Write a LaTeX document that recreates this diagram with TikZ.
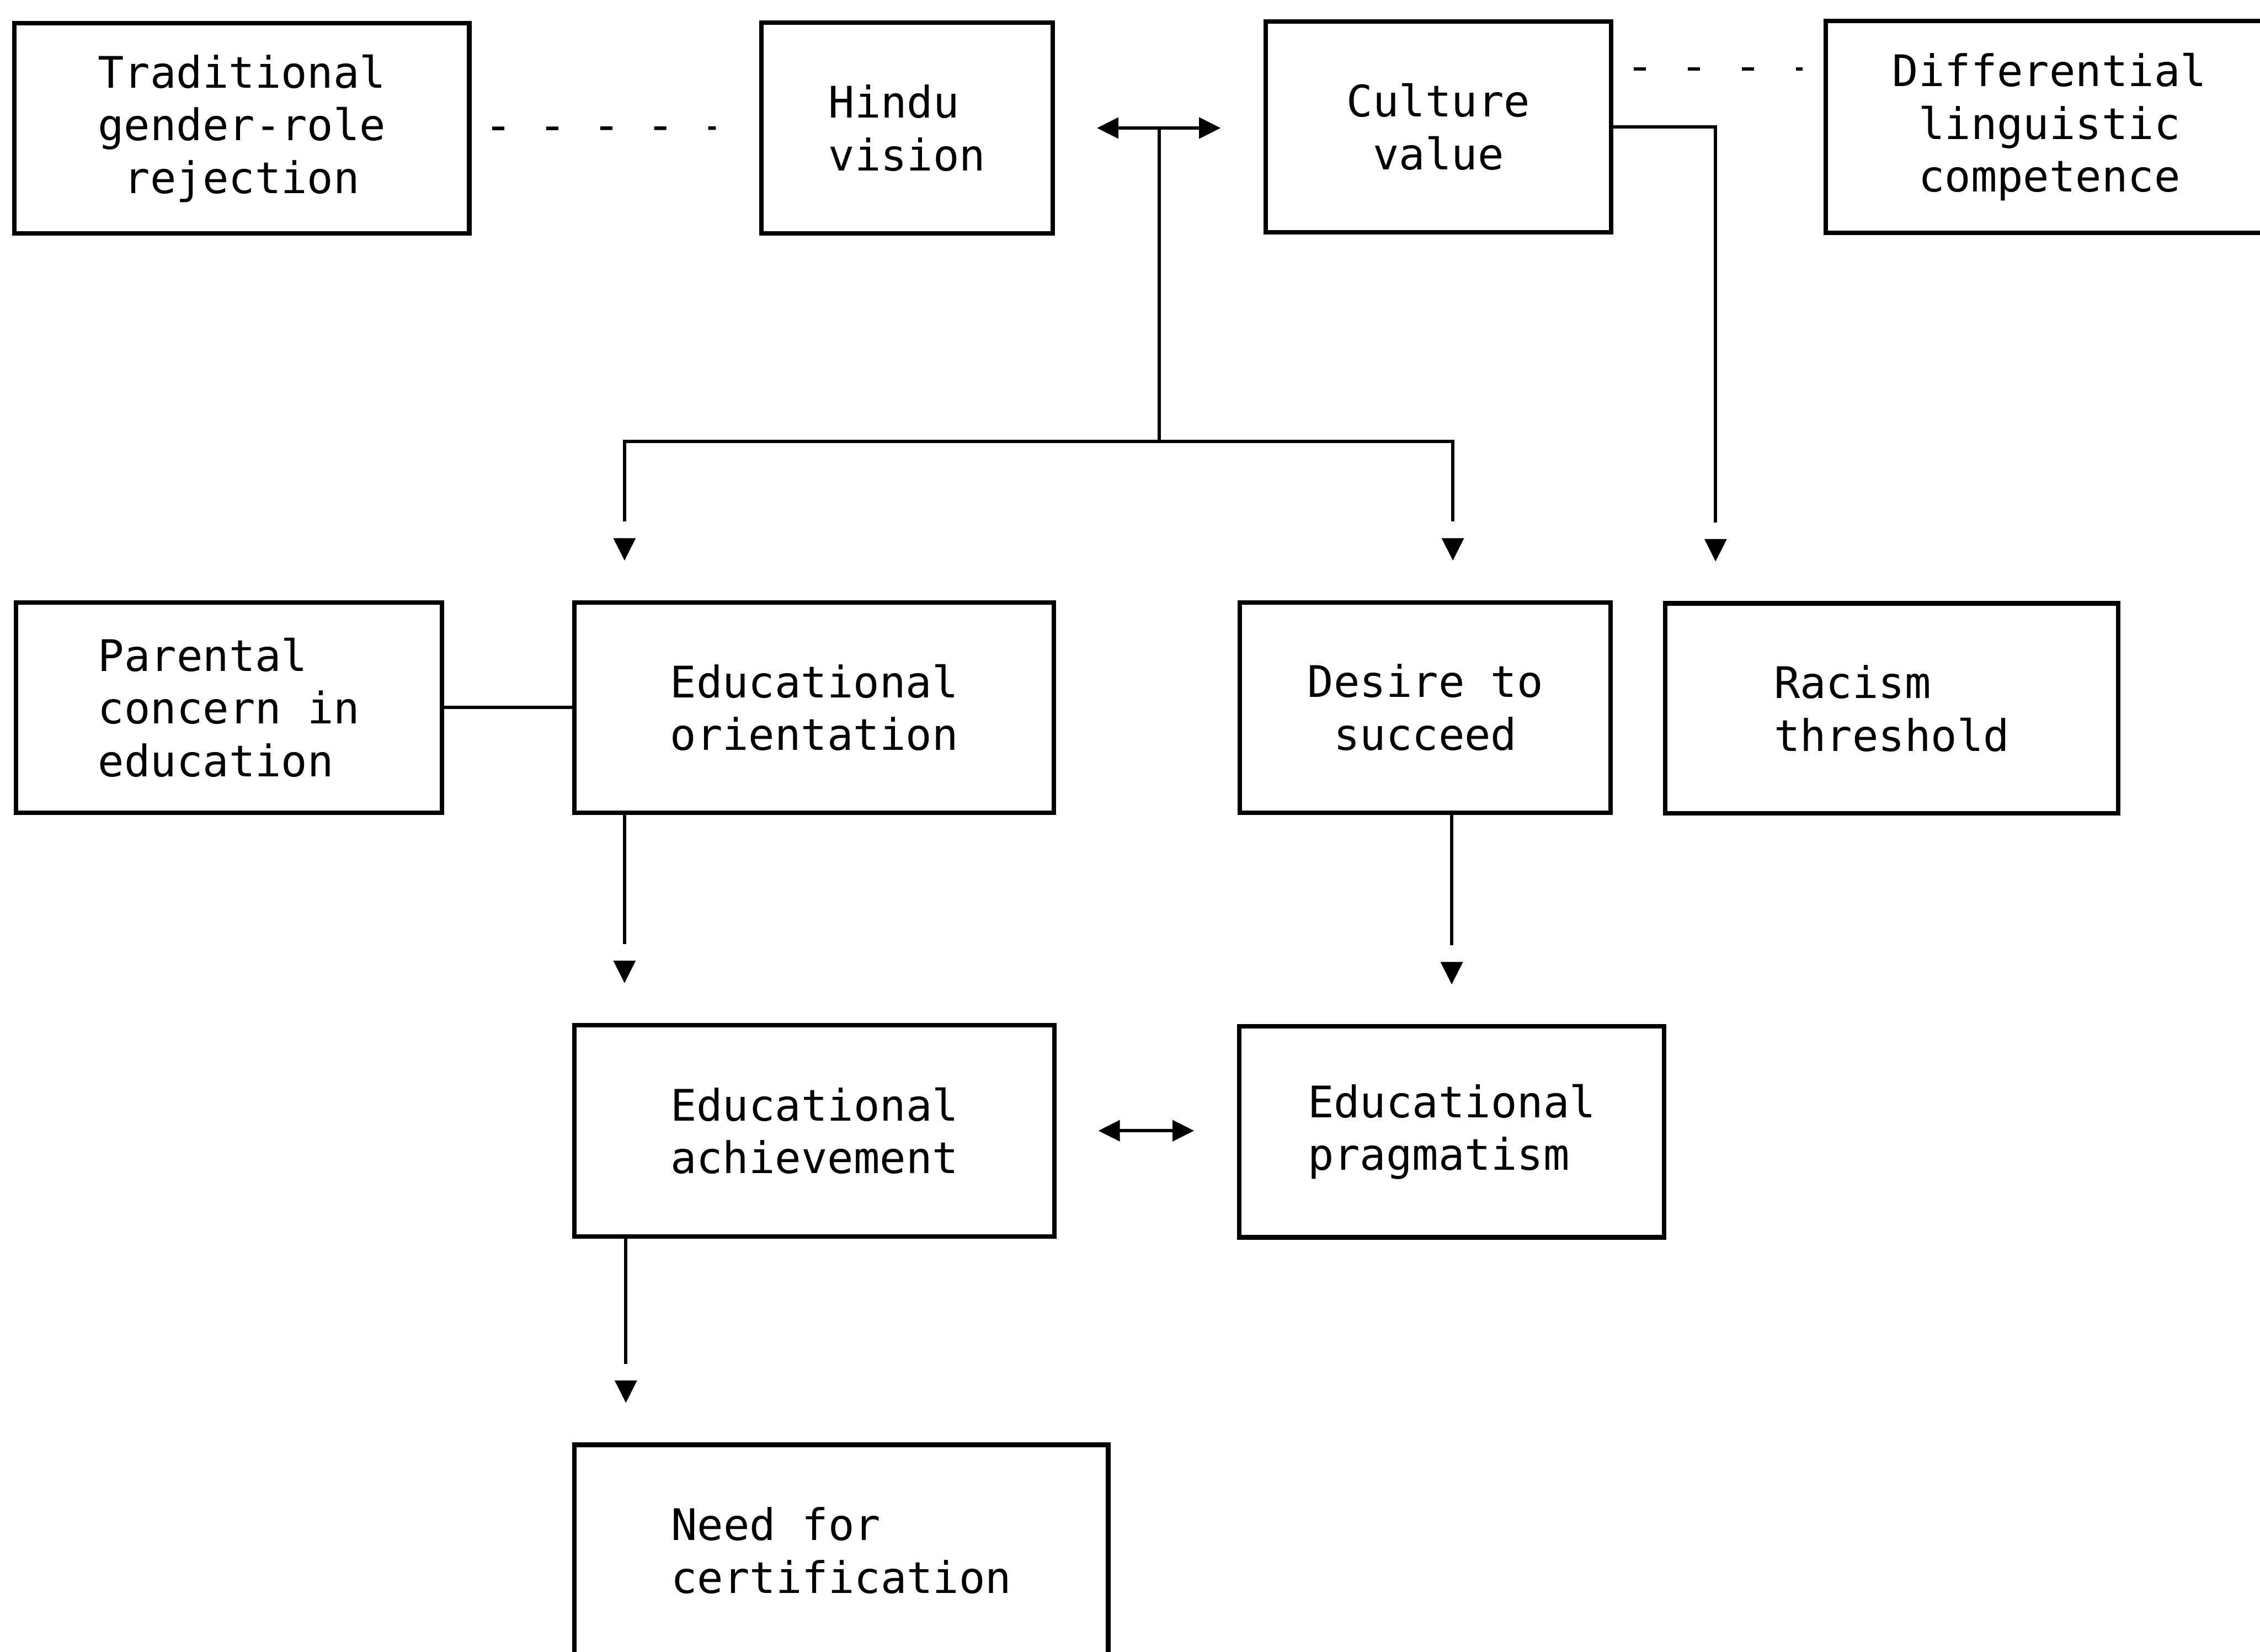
\documentclass[tikz,border=0pt]{standalone}
\usepackage{fontspec}
\setmonofont{DejaVu Sans Mono}
\usetikzlibrary{arrows.meta, calc, decorations.markings}

\tikzset{
  factor/.style={draw, line width=0.1cm, inner sep=0pt, align=left,
    font=\ttfamily\fontsize{27.5}{33.3}\selectfont},
  link/.style={line width=0.075cm},
  dashlink/.style={line width=0.08cm, dash pattern=on 0.27cm off 0.93cm},
  arr/.style={link, shorten >=1.75cm,
    postaction={decorate, decoration={markings,
      mark=at position -0.88cm with {\arrow{Triangle[length=0.5cm, width=0.48cm]}}}}},
  dblarr/.style={link, {Triangle[length=0.48cm, width=0.46cm]}-{Triangle[length=0.48cm, width=0.46cm]},
    shorten <=0.93cm, shorten >=0.95cm}
}

\begin{document}
\begin{tikzpicture}
\useasboundingbox (0,0) rectangle (50.23,-36.71);

\node[factor, align=center, minimum width=10.11cm, minimum height=4.67cm] (trad) at (5.375,-2.855) {Traditional\\gender-role\\rejection};
\node[factor, minimum width=6.48cm, minimum height=4.69cm] (hindu) at (20.16,-2.845) {Hindu\\vision};
\node[factor, align=center, minimum width=7.68cm, minimum height=4.68cm] (culture) at (31.97,-2.82) {Culture\\value};
\node[factor, align=center, minimum width=9.94cm, minimum height=4.71cm] (diff) at (45.55,-2.825) {Differential\\linguistic\\competence};

\node[factor, minimum width=9.46cm, minimum height=4.67cm] (parental) at (5.09,-15.725) {Parental\\concern in\\education};
\node[factor, minimum width=10.65cm, minimum height=4.67cm] (orient) at (18.095,-15.725) {Educational\\orientation};
\node[factor, align=center, minimum width=8.24cm, minimum height=4.67cm] (desire) at (31.68,-15.725) {Desire to\\succeed};
\node[factor, minimum width=10.07cm, minimum height=4.67cm] (racism) at (42.045,-15.745) {Racism\\threshold};

\node[factor, minimum width=10.66cm, minimum height=4.70cm] (achieve) at (18.10,-25.13) {Educational\\achievement};
\node[factor, minimum width=9.45cm, minimum height=4.69cm] (pragma) at (32.265,-25.155) {Educational\\pragmatism};

\node[factor, minimum width=11.86cm, minimum height=4.70cm] (certif) at (18.70,-34.46) {Need for\\certification};

% top row
\draw[dashlink, shorten <=0.46cm, shorten >=0.96cm] (trad.east) -- (hindu.west);
\draw[dashlink, shorten <=0.45cm, shorten >=0.47cm] ([yshift=1.29cm]culture.east) -- ([yshift=1.29cm]culture.east -| diff.west);
\draw[dblarr] (hindu.east) -- (hindu.east -| culture.west);

% split down to the middle row
\coordinate (hcmid) at ($(hindu.east)!0.5!(hindu.east -| culture.west)$);
\draw[link] (hcmid) -- ++(0,-6.97) coordinate (split);
\draw[arr] (split) -| ([xshift=1.16cm]orient.north west);
\draw[arr] (split) -| ([xshift=0.61cm]desire.north);
\draw[arr] (culture.east) -| ([xshift=1.17cm]racism.north west);

\draw[link] (parental.east) -- (parental.east -| orient.west);
\draw[arr] ([xshift=1.16cm]orient.south west) -- ([xshift=1.16cm]orient.south west |- achieve.north);
\draw[arr] (pragma.north |- desire.south) -- (pragma.north);
\draw[dblarr] (achieve.east) -- (achieve.east -| pragma.west);
\draw[arr] ([xshift=1.19cm]achieve.south west) -- ([xshift=1.19cm]achieve.south west |- certif.north);

\end{tikzpicture}
\end{document}
